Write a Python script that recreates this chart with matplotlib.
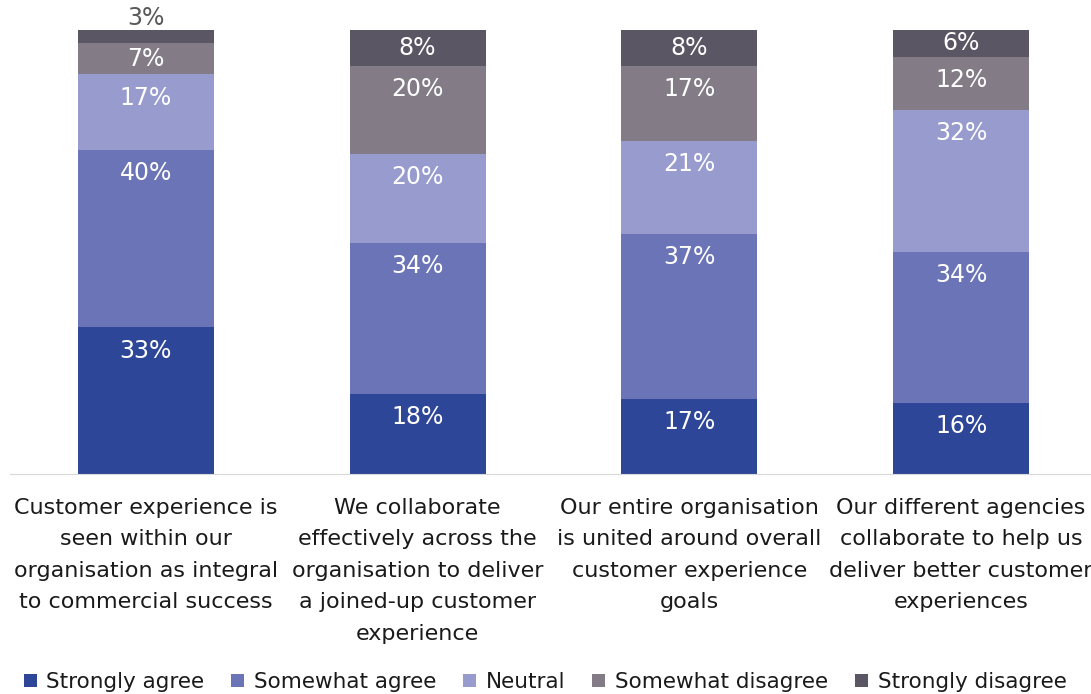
import numpy as np
import matplotlib.pyplot as plt

categories = [
    "Customer experience is\nseen within our\norganisation as integral\nto commercial success",
    "We collaborate\neffectively across the\norganisation to deliver\na joined-up customer\nexperience",
    "Our entire organisation\nis united around overall\ncustomer experience\ngoals",
    "Our different agencies\ncollaborate to help us\ndeliver better customer\nexperiences",
]
series_names = ["Strongly agree", "Somewhat agree", "Neutral", "Somewhat disagree", "Strongly disagree"]
strongly_agree = [33, 18, 17, 16]
somewhat_agree = [40, 34, 37, 34]
neutral = [17, 20, 21, 32]
somewhat_disagree = [7, 20, 17, 12]
strongly_disagree = [3, 8, 8, 6]
colors = ["#2E4697", "#6A74B7", "#989BCE", "#837C87", "#5A5663"]

plt.rcParams['font.family'] = ['DejaVu Sans']

fig = plt.figure(figsize=(10.91, 6.94), dpi=100)
ax = fig.add_axes([10 / 1091, 220 / 694, 1087 / 1091, 444 / 694])

x = np.arange(len(categories))
bottom = np.zeros(len(categories))
all_series = [strongly_agree, somewhat_agree, neutral, somewhat_disagree, strongly_disagree]
for vals, name, c in zip(all_series, series_names, colors):
    vals = np.array(vals, dtype=float)
    ax.bar(x, vals, width=0.5, bottom=bottom, color=c, label=name)
    for xi, v, b in zip(x, vals, bottom):
        top = b + v
        if v < 5:
            ax.annotate(f"{int(v)}%", (xi, top), xytext=(0, 0), textcoords='offset points',
                        ha='center', va='bottom', fontsize=17, color='#595959')
        elif v < 10:
            ax.text(xi, b + v / 2, f"{int(v)}%", ha='center', va='center',
                    fontsize=17, color='white')
        else:
            ax.annotate(f"{int(v)}%", (xi, top), xytext=(0, -8), textcoords='offset points',
                        ha='center', va='top', fontsize=17, color='white')
    bottom += vals

ax.set_xlim(-0.5, 3.5)
ax.set_ylim(0, 100)
ax.set_yticks([])
ax.set_xticks(x)
ax.set_xticklabels(categories, fontsize=16, color='#1a1a1a', linespacing=1.72)
ax.tick_params(axis='x', length=0, pad=17)
for s in ['top', 'right', 'left']:
    ax.spines[s].set_visible(False)
ax.spines['bottom'].set_color('#D9D9D9')

fig.legend(loc='lower left', bbox_to_anchor=(0.004, -0.025), ncol=5, frameon=False,
           fontsize=15.5, handlelength=0.6, handleheight=0.6, handletextpad=0.45,
           columnspacing=1.25, labelcolor='#1a1a1a')

fig.savefig('out.png', dpi=100)
